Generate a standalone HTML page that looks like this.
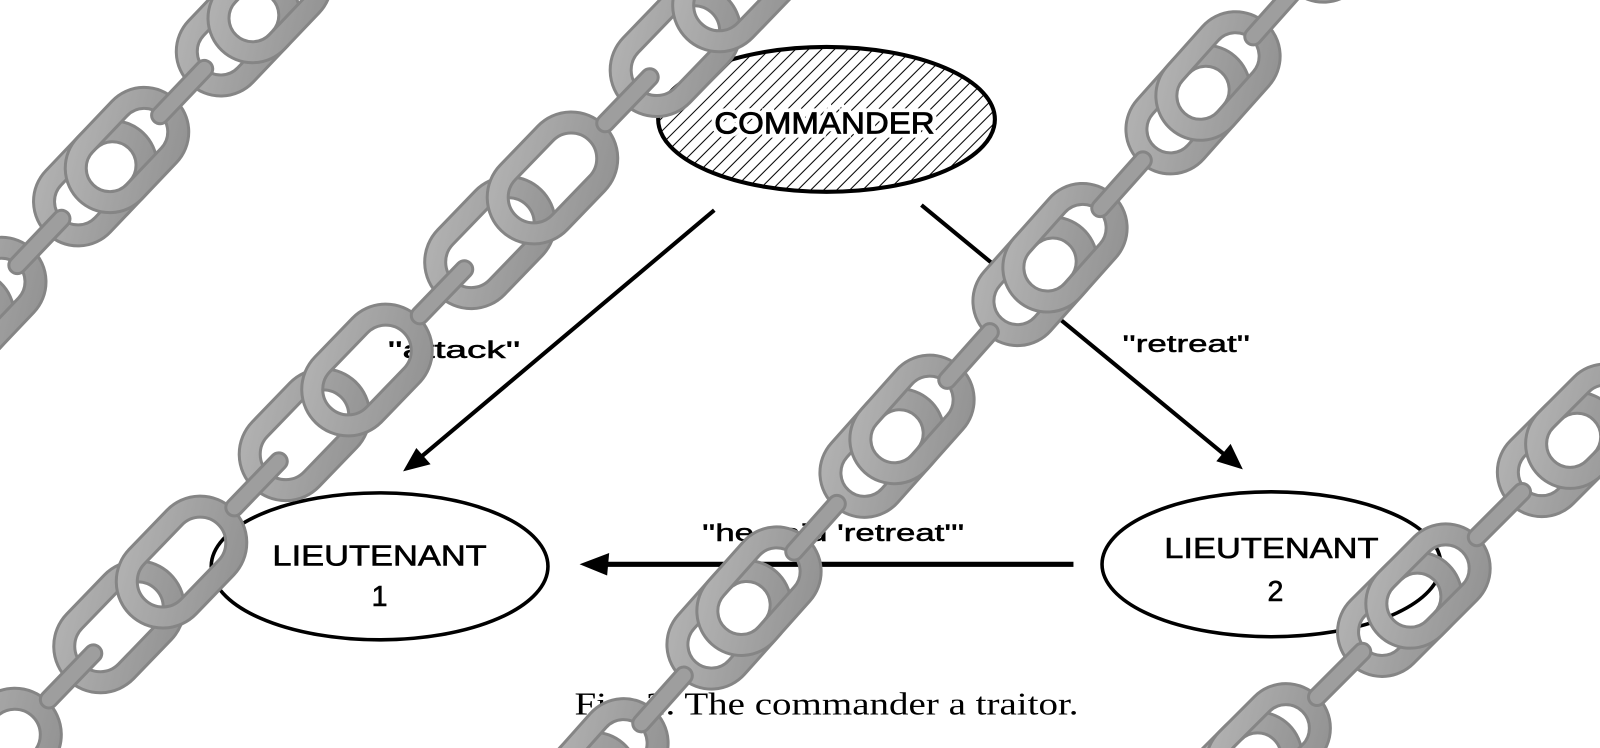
<!DOCTYPE html>
<html><head><meta charset="utf-8"><style>
html,body{margin:0;padding:0;background:#fff;width:1600px;height:748px;overflow:hidden;}
svg{display:block;}
</style></head><body>
<svg id="s" width="1600" height="748" viewBox="0 0 1600 748" xmlns="http://www.w3.org/2000/svg">
<defs>
<pattern id="hatch" patternUnits="userSpaceOnUse" width="9" height="9" patternTransform="rotate(45)">
<line x1="0" y1="0" x2="0" y2="9" stroke="#000" stroke-width="2"/>
</pattern>
<linearGradient id="g" x1="0" y1="0" x2="1" y2="1"><stop offset="0" stop-color="#b2b2b2"/><stop offset="1" stop-color="#939393"/></linearGradient>
</defs>
<rect width="1600" height="748" fill="#fff"/>
<g transform="scale(1.0204)">
<ellipse cx="810" cy="117" rx="165" ry="71" fill="url(#hatch)" stroke="#000" stroke-width="4"/>
<text x="808" y="131" font-family="Liberation Sans, sans-serif" font-size="30" text-anchor="middle" textLength="216" lengthAdjust="spacingAndGlyphs" stroke="#fff" stroke-width="8" paint-order="stroke" fill="#000">COMMANDER</text>
<text x="808" y="131" font-family="Liberation Sans, sans-serif" font-size="30" text-anchor="middle" textLength="216" lengthAdjust="spacingAndGlyphs" stroke="#000" stroke-width="0.8" fill="#000">COMMANDER</text>
<ellipse cx="372" cy="555" rx="165" ry="72" fill="#fff" stroke="#000" stroke-width="3.5"/>
<text x="372" y="554" font-family="Liberation Sans, sans-serif" font-size="28" text-anchor="middle" textLength="210" lengthAdjust="spacingAndGlyphs" stroke="#000" stroke-width="0.6">LIEUTENANT</text>
<text x="372" y="594" font-family="Liberation Sans, sans-serif" font-size="28" text-anchor="middle" stroke="#000" stroke-width="0.6">1</text>
<ellipse cx="1246" cy="553" rx="166" ry="71" fill="#fff" stroke="#000" stroke-width="3.5"/>
<text x="1246" y="547" font-family="Liberation Sans, sans-serif" font-size="28" text-anchor="middle" textLength="210" lengthAdjust="spacingAndGlyphs" stroke="#000" stroke-width="0.6">LIEUTENANT</text>
<text x="1250" y="589" font-family="Liberation Sans, sans-serif" font-size="28" text-anchor="middle" stroke="#000" stroke-width="0.6">2</text>
<line x1="700" y1="206" x2="410" y2="450" stroke="#000" stroke-width="4"/>
<polygon points="395,462 408,439 422,455" fill="#000"/>
<line x1="903" y1="201" x2="1203" y2="448" stroke="#000" stroke-width="4"/>
<polygon points="1218,460 1192,452 1206,435" fill="#000"/>
<line x1="1052" y1="553" x2="585" y2="553" stroke="#000" stroke-width="5"/>
<polygon points="568,553 597,542 595,564" fill="#000"/>
<text x="380" y="351" font-family="Liberation Sans, sans-serif" font-size="24" textLength="130" lengthAdjust="spacingAndGlyphs" stroke="#000" stroke-width="0.5">''attack''</text>
<text x="1100" y="345" font-family="Liberation Sans, sans-serif" font-size="24" textLength="125" lengthAdjust="spacingAndGlyphs" stroke="#000" stroke-width="0.5">''retreat''</text>
<text x="688" y="530" font-family="Liberation Sans, sans-serif" font-size="24" textLength="257" lengthAdjust="spacingAndGlyphs" stroke="#000" stroke-width="0.5">''he said 'retreat'''</text>
<text x="563" y="700" font-family="Liberation Serif, serif" font-size="31" textLength="494" lengthAdjust="spacingAndGlyphs">Fig. 2. The commander a traitor.</text>
</g>
<g id="chains"></g>
</svg>
<script>
(function(){
var NS="http://www.w3.org/2000/svg";
var G=document.getElementById("chains");
function el(t,a,p){var e=document.createElementNS(NS,t);for(var k in a)e.setAttribute(k,a[k]);p.appendChild(e);return e;}
function oval(g,cx,L,W){
 var T=24;
 el("rect",{x:cx-(L-T)/2,y:-(W-T)/2,width:L-T,height:W-T,rx:(W-T)/2,fill:"none",stroke:"#858585","stroke-width":T},g);
 el("rect",{x:cx-(L-T)/2,y:-(W-T)/2,width:L-T,height:W-T,rx:(W-T)/2,fill:"none",stroke:"url(#g)","stroke-width":T-6},g);
}
function bar(g,cx,len){
 el("line",{x1:cx-len/2,y1:0,x2:cx+len/2,y2:0,stroke:"#858585","stroke-width":20,"stroke-linecap":"round"},g);
 el("line",{x1:cx-len/2,y1:0,x2:cx+len/2,y2:0,stroke:"#9e9e9e","stroke-width":14,"stroke-linecap":"round"},g);
}
function chain(ax,ay,ang,P,s,b,L,W,k0,k1){
 var g=el("g",{transform:"translate("+ax+","+ay+") rotate("+ang+")"},G);
 for(var k=k0;k<=k1;k++){
  var x=k*P;
  oval(g,x-s,L,W);
  oval(g,x,L,W);
 }
 for(var k=k0;k<=k1;k++){ bar(g,k*P-b,64); }
}
chain(127,150,-46.4,207,46,127,142,92,-2,2);
chain(367,370,-46,267,90,159,150,96,-3,3);
chain(1218,76,-48.3,230,45,145,145,92,-4,2);
chain(1428,586,-45,226,40,125,142,92,-2,2);
})();
</script>
</body></html>
